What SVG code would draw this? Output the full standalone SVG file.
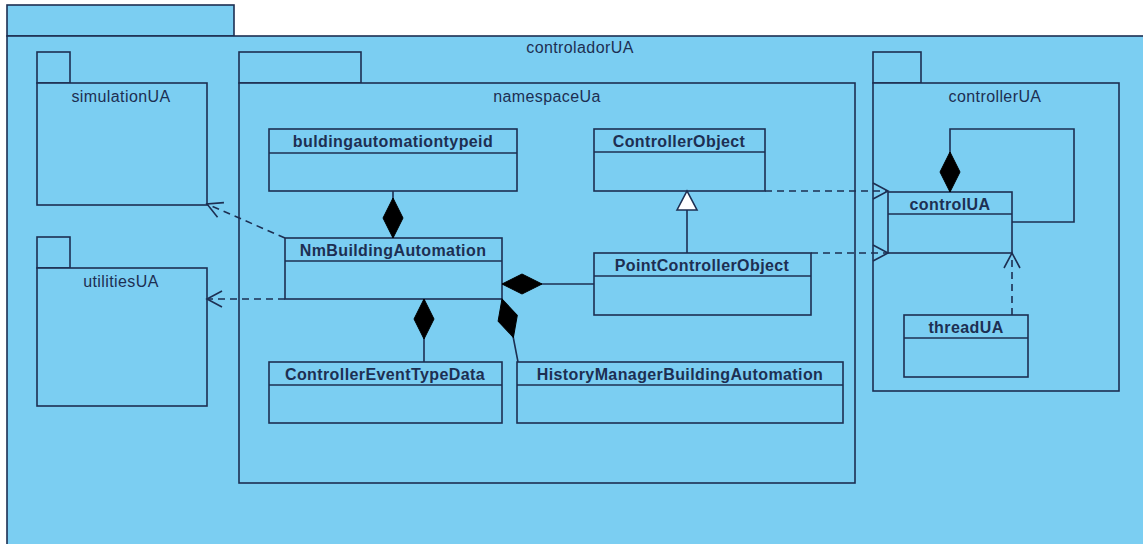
<svg xmlns="http://www.w3.org/2000/svg" width="1143" height="544" viewBox="0 0 1143 544">
  <style>
    .pkg { fill: #7bcef2; stroke: #1d2f52; stroke-width: 1.6; }
    .cls { fill: #7bcef2; stroke: #1d2f52; stroke-width: 1.6; }
    .pname { font-family: "Liberation Sans", Arial, sans-serif; font-size: 16px; letter-spacing: 0.4px; fill: #1d2f52; text-anchor: middle; }
    .cname { font-family: "Liberation Sans", Arial, sans-serif; font-size: 16px; font-weight: bold; letter-spacing: 0.4px; fill: #1d2f52; text-anchor: middle; }
    .comp { fill: none; stroke: #1d2f52; stroke-width: 1.6; marker-start: url(#diamond); }
    .dep { fill: none; stroke: #1d2f52; stroke-width: 1.6; stroke-dasharray: 7 5; marker-end: url(#open); }
    .gen { fill: none; stroke: #1d2f52; stroke-width: 1.6; marker-end: url(#hollow); }
  </style>
  <defs>
    <marker id="diamond" markerUnits="userSpaceOnUse" viewBox="-1 -11 42 22" refX="0" refY="0" markerWidth="42" markerHeight="22" orient="auto">
      <path d="M0,0 L20,-10 L40,0 L20,10 Z" fill="#000" stroke="#000" stroke-width="1"/>
    </marker>
    <marker id="open" markerUnits="userSpaceOnUse" viewBox="-17 -10 19 20" refX="0" refY="0" markerWidth="19" markerHeight="20" orient="auto">
      <path d="M-15,-8 L0,0 L-15,8" fill="none" stroke="#1d2f52" stroke-width="1.6"/>
    </marker>
    <marker id="hollow" markerUnits="userSpaceOnUse" viewBox="-21 -12 23 24" refX="0" refY="0" markerWidth="23" markerHeight="24" orient="auto">
      <path d="M-19,-10 L0,0 L-19,10 Z" fill="#fff" stroke="#1d2f52" stroke-width="1.6"/>
    </marker>
  </defs>

  <rect x="0" y="0" width="1143" height="544" fill="#fff"/>

  <!-- outer package -->
  <g id="controladorUA">
    <rect class="pkg" x="7" y="5" width="227" height="31"/>
    <rect class="pkg" x="7" y="36" width="1160" height="530"/>
    <text class="pname" x="580" y="53">controladorUA</text>
  </g>

  <g id="simulationUA">
    <rect class="pkg" x="37" y="52" width="33" height="31"/>
    <rect class="pkg" x="37" y="83" width="170" height="122"/>
    <text class="pname" x="121" y="102">simulationUA</text>
  </g>

  <g id="utilitiesUA">
    <rect class="pkg" x="37" y="237" width="33" height="31"/>
    <rect class="pkg" x="37" y="268" width="170" height="138"/>
    <text class="pname" x="121" y="287">utilitiesUA</text>
  </g>

  <g id="namespaceUa">
    <rect class="pkg" x="239" y="52" width="122" height="31"/>
    <rect class="pkg" x="239" y="83" width="616" height="400"/>
    <text class="pname" x="547" y="102">namespaceUa</text>
  </g>

  <g id="controllerUA">
    <rect class="pkg" x="873" y="52" width="48" height="31"/>
    <rect class="pkg" x="873" y="83" width="246" height="308"/>
    <text class="pname" x="995" y="102">controllerUA</text>
  </g>

  <g id="buldingautomationtypeid">
    <rect class="cls" x="269" y="129" width="248" height="62"/>
    <line class="cls" x1="269" y1="153" x2="517" y2="153"/>
    <text class="cname" x="393" y="147">buldingautomationtypeid</text>
  </g>

  <g id="ControllerObject">
    <rect class="cls" x="594" y="129" width="171" height="62"/>
    <line class="cls" x1="594" y1="152" x2="765" y2="152"/>
    <text class="cname" x="679" y="147">ControllerObject</text>
  </g>

  <g id="NmBuildingAutomation">
    <rect class="cls" x="285" y="238" width="217" height="61"/>
    <line class="cls" x1="285" y1="261" x2="502" y2="261"/>
    <text class="cname" x="393" y="256">NmBuildingAutomation</text>
  </g>

  <g id="PointControllerObject">
    <rect class="cls" x="594" y="253" width="217" height="62"/>
    <line class="cls" x1="594" y1="276" x2="811" y2="276"/>
    <text class="cname" x="702" y="271">PointControllerObject</text>
  </g>

  <g id="ControllerEventTypeData">
    <rect class="cls" x="269" y="362" width="233" height="61"/>
    <line class="cls" x1="269" y1="385" x2="502" y2="385"/>
    <text class="cname" x="385" y="380">ControllerEventTypeData</text>
  </g>

  <g id="HistoryManagerBuildingAutomation">
    <rect class="cls" x="517" y="362" width="326" height="61"/>
    <line class="cls" x1="517" y1="385" x2="843" y2="385"/>
    <text class="cname" x="680" y="380">HistoryManagerBuildingAutomation</text>
  </g>

  <g id="controlUA">
    <rect class="cls" x="888" y="192" width="124" height="61"/>
    <line class="cls" x1="888" y1="214" x2="1012" y2="214"/>
    <text class="cname" x="950" y="210">controlUA</text>
  </g>

  <g id="threadUA">
    <rect class="cls" x="904" y="315" width="124" height="62"/>
    <line class="cls" x1="904" y1="338" x2="1028" y2="338"/>
    <text class="cname" x="966" y="333">threadUA</text>
  </g>

  <!-- connectors -->
  <g id="connectors">
    <path class="comp" d="M393,238 V191"/>
    <path class="comp" d="M502,284 H594"/>
    <path class="comp" d="M424,299 V362"/>
    <path class="comp" d="M502,299 L513,336 L518,362"/>
    <path class="comp" d="M950,192 V129 H1074 V222 H1012"/>
    <path class="gen" d="M687,253 V191"/>
    <path class="dep" d="M285,238 L207,204"/>
    <path class="dep" d="M285,299 H207"/>
    <path class="dep" d="M765,191 H888"/>
    <path class="dep" d="M811,253 H888"/>
    <path class="dep" d="M1012,315 V253"/>
  </g>
</svg>
